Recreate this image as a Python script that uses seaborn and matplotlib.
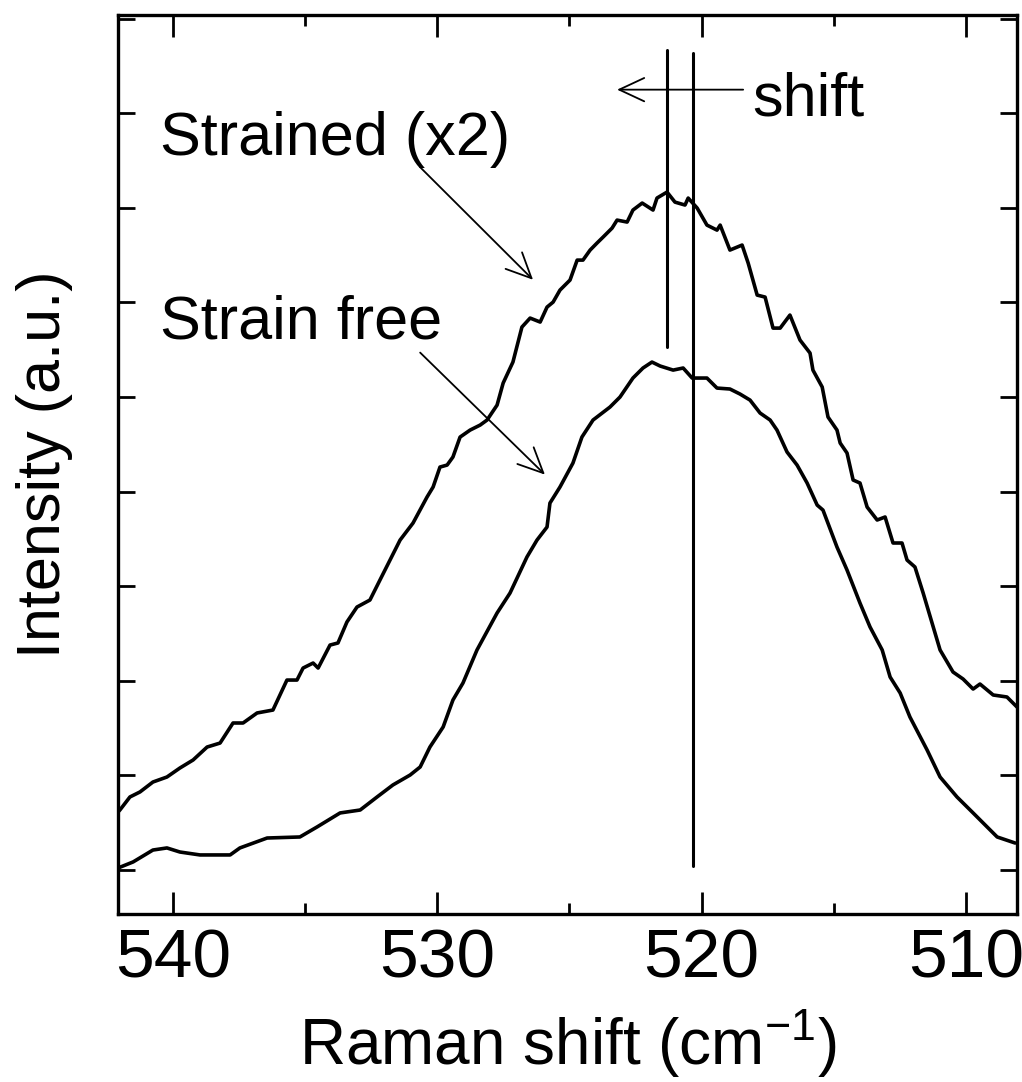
"""Raman spectra: strained vs strain-free Si peak, with peak-shift markers."""

import matplotlib
matplotlib.use("Agg")
import matplotlib.pyplot as plt
from matplotlib.ticker import MultipleLocator, NullFormatter
import numpy as np
import pandas as pd
import seaborn as sns

# Strained (x2) spectrum
strained_x = [542.08, 542.01, 541.63, 541.25, 540.76, 540.23, 539.74, 539.24, 538.71, 538.22,
              537.73, 537.35, 536.82, 536.22, 535.69, 535.31, 535.08, 534.70, 534.51, 534.06,
              533.76, 533.42, 533.04, 532.55, 532.17, 531.41, 530.92, 530.39, 530.16, 529.90,
              529.63, 529.41, 529.14, 528.76, 528.38, 528.12, 527.74, 527.51, 527.14, 526.80,
              526.49, 526.11, 525.85, 525.62, 525.36, 524.98, 524.71, 524.49, 524.22, 523.96,
              523.73, 523.39, 523.20, 522.82, 522.60, 522.25, 521.84, 521.69, 521.31, 521.01,
              520.63, 520.51, 520.17, 519.80, 519.42, 519.30, 518.93, 518.47, 518.24, 517.90,
              517.60, 517.30, 517.03, 516.66, 516.28, 515.90, 515.79, 515.44, 515.22, 514.88,
              514.76, 514.50, 514.27, 514.01, 513.74, 513.36, 513.06, 512.76, 512.42, 512.23,
              511.93, 511.62, 510.98, 510.49, 510.11, 509.73, 509.47, 508.97, 508.45, 508.07]
strained_y = [0.613, 0.634, 0.772, 0.825, 0.930, 0.983, 1.078, 1.163, 1.300, 1.342,
              1.554, 1.554, 1.660, 1.691, 2.008, 2.008, 2.135, 2.188, 2.135, 2.378,
              2.400, 2.622, 2.780, 2.854, 3.066, 3.488, 3.668, 3.943, 4.049, 4.260,
              4.281, 4.366, 4.577, 4.651, 4.704, 4.757, 4.915, 5.148, 5.370, 5.740,
              5.835, 5.793, 5.951, 6.004, 6.131, 6.237, 6.448, 6.448, 6.554, 6.628,
              6.691, 6.786, 6.871, 6.850, 6.977, 7.051, 6.977, 7.104, 7.167, 7.061,
              7.030, 7.104, 6.998, 6.818, 6.765, 6.818, 6.554, 6.607, 6.416, 6.078,
              6.057, 5.729, 5.729, 5.867, 5.603, 5.465, 5.285, 5.106, 4.789, 4.651,
              4.514, 4.408, 4.123, 4.091, 3.837, 3.700, 3.732, 3.457, 3.457, 3.277,
              3.203, 2.928, 2.326, 2.093, 2.019, 1.913, 1.966, 1.850, 1.829, 1.723]

# Strain-free spectrum
free_x = [542.08, 541.51, 540.76, 540.23, 539.74, 538.98, 537.84, 537.47, 536.44, 535.20,
          534.55, 533.68, 532.92, 532.28, 531.68, 531.03, 530.65, 530.28, 529.78, 529.41,
          529.03, 528.50, 527.74, 527.25, 526.61, 526.23, 525.85, 525.74, 525.36, 524.87,
          524.53, 524.11, 523.47, 523.09, 522.60, 522.22, 521.88, 521.57, 521.08, 520.70,
          520.36, 519.80, 519.42, 518.93, 518.55, 518.17, 517.79, 517.41, 517.15, 516.77,
          516.39, 516.01, 515.63, 515.41, 514.88, 514.50, 514.01, 513.63, 513.17, 512.87,
          512.49, 512.12, 511.47, 510.98, 510.34, 509.73, 509.20, 508.82, 508.14]
free_y = [0.021, 0.085, 0.211, 0.233, 0.190, 0.159, 0.159, 0.233, 0.338, 0.349,
          0.455, 0.603, 0.634, 0.772, 0.899, 1.004, 1.089, 1.300, 1.512, 1.797,
          1.977, 2.326, 2.717, 2.928, 3.309, 3.488, 3.626, 3.879, 4.049, 4.302,
          4.577, 4.757, 4.894, 5.000, 5.201, 5.307, 5.370, 5.328, 5.285, 5.307,
          5.201, 5.201, 5.095, 5.085, 5.032, 4.968, 4.831, 4.757, 4.651, 4.419,
          4.281, 4.091, 3.858, 3.805, 3.414, 3.171, 2.822, 2.569, 2.326, 2.040,
          1.871, 1.617, 1.268, 0.983, 0.772, 0.603, 0.455, 0.349, 0.285]

# peak-position markers: (x, y_bottom, y_top)
PEAK_STRAINED = (521.31, 5.53, 8.67)
PEAK_FREE = (520.33, 0.04, 8.64)

sns.set_style("ticks")
plt.rcParams["font.family"] = ["Liberation Sans", "DejaVu Sans"]
plt.rcParams["mathtext.fontset"] = "custom"
plt.rcParams["mathtext.rm"] = "Liberation Sans"
plt.rcParams["mathtext.it"] = "Liberation Sans:italic"
plt.rcParams["mathtext.default"] = "regular"
for k in ("text.color", "axes.labelcolor", "xtick.color", "ytick.color", "axes.edgecolor"):
    plt.rcParams[k] = "black"

fig = plt.figure(figsize=(10.22, 10.82), dpi=100)
ax = fig.add_axes([0.1155, 0.1553, 0.8796, 0.8309])

df = pd.concat([
    pd.DataFrame({"shift": strained_x, "I": strained_y, "s": "Strained (x2)"}),
    pd.DataFrame({"shift": free_x, "I": free_y, "s": "Strain free"}),
])
sns.lineplot(data=df, x="shift", y="I", units="s", estimator=None, color="black",
             lw=2.6, legend=False, ax=ax)

for xp, y0, y1 in (PEAK_STRAINED, PEAK_FREE):
    ax.plot([xp, xp], [y0, y1], color="black", lw=2.2)

ax.set_xlim(542.08, 508.07)
ax.set_ylim(-0.465, 9.04)

# labels and arrows
ax.text(540.49, 7.558, "Strained (x2)", fontsize=44, va="baseline", ha="left")
ax.text(540.49, 5.624, "Strain free", fontsize=44, va="baseline", ha="left")
ax.text(518.09, 7.981, "shift", fontsize=44, va="baseline", ha="left")
arw = dict(arrowstyle="->,head_length=0.6,head_width=0.28", lw=1.3, color="black",
           mutation_scale=30, shrinkA=0, shrinkB=0)
ax.annotate("", xy=(526.38, 6.24), xytext=(530.65, 7.43), arrowprops=arw)
ax.annotate("", xy=(525.93, 4.18), xytext=(530.65, 5.47), arrowprops=arw)
ax.annotate("", xy=(523.2, 8.25), xytext=(518.43, 8.25), arrowprops=arw)

ax.xaxis.set_major_locator(MultipleLocator(10))
ax.xaxis.set_minor_locator(MultipleLocator(5))
ax.yaxis.set_major_locator(MultipleLocator(1))
ax.yaxis.set_major_formatter(NullFormatter())
ax.tick_params(axis="x", which="major", direction="in", length=16, width=2,
               top=True, labelsize=50, pad=10)
ax.tick_params(axis="x", which="minor", direction="in", length=8, width=2, top=True)
ax.tick_params(axis="y", which="major", direction="in", length=12, width=2, right=True)
for sp in ax.spines.values():
    sp.set_linewidth(2.4)

ax.set_xlabel("Raman shift (cm$^{-1}$)", fontsize=46)
ax.set_ylabel("Intensity (a.u.)", fontsize=44)
ax.xaxis.set_label_coords(0.5, -0.104)
ax.yaxis.set_label_coords(-0.05, 0.5)

fig.savefig("out.png", dpi=100)
